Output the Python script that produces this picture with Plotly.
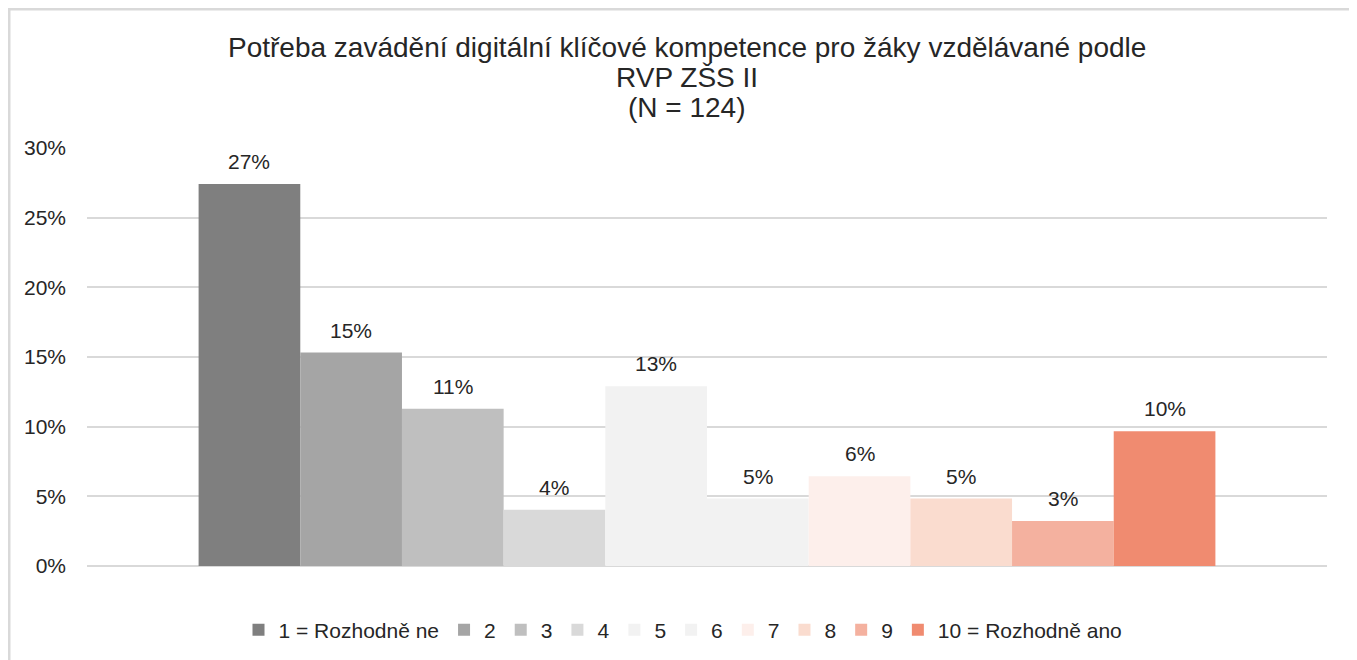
import plotly.graph_objects as go

series_names = ["1 = Rozhodně ne", "2", "3", "4", "5", "6", "7", "8", "9", "10 = Rozhodně ano"]
values_pct = [27.42, 15.32, 11.29, 4.03, 12.90, 4.84, 6.45, 4.84, 3.23, 9.68]
colors = ["#7f7f7f", "#a5a5a5", "#bfbfbf", "#d9d9d9", "#f2f2f2", "#f2f2f2",
          "#fdefeb", "#fadccf", "#f4b19f", "#f08b70"]
title_lines = ["Potřeba zavádění digitální klíčové kompetence pro žáky vzdělávané podle",
               "RVP ZŠS II", "(N = 124)"]
y_tickvals = [0, 5, 10, 15, 20, 25, 30]
y_ticktext = ["0%", "5%", "10%", "15%", "20%", "25%", "30%"]

# page has an 8px body margin -> work in screen pixels, convert to figure pixels
OX, OY = 8, 8
W, H = 1357 - OX, 660 - OY
PL, PR, PT, PB = 87, 1327, 148, 566  # plot area in screen px
L, R, T, B = PL - OX, W - (PR - OX), PT - OY, H - (PB - OY)
pw, ph = PR - PL, PB - PT


def px_x(x):
    return (x - PL) / pw


def px_y(y):
    return (PB - y) / ph


FONT = "Liberation Sans, Arial, sans-serif"
TXT = "#262626"
BARGAP = 0.18
n = len(series_names)
bw = (1 - BARGAP) / n

fig = go.Figure()
for i, (name, v, c) in enumerate(zip(series_names, values_pct, colors)):
    fig.add_trace(go.Bar(
        name=name, x=[0], y=[v], marker=dict(color=c, line=dict(width=0)),
        hoverinfo="name+y",
    ))
    fig.add_annotation(
        x=-(1 - BARGAP) / 2 + bw * (i + 0.5), y=v, xref="x", yref="y",
        text=f"{v:.0f}%", showarrow=False, xanchor="center", yanchor="bottom",
        yshift=9, font=dict(family=FONT, size=21, color=TXT),
    )

for line, yc in zip(title_lines, [47, 77, 107]):
    fig.add_annotation(
        text=line, xref="paper", yref="paper", x=px_x(687), y=px_y(yc),
        xanchor="center", yanchor="middle", showarrow=False,
        font=dict(family=FONT, size=28, color=TXT),
    )

fig.add_shape(type="rect", xref="paper", yref="paper",
              x0=px_x(OX + 1), x1=px_x(1351), y0=px_y(700), y1=px_y(OY + 1),
              line=dict(color="#d9d9d9", width=3), fillcolor="rgba(0,0,0,0)", layer="below")

fig.update_layout(
    width=W, height=H, margin=dict(l=L, r=R, t=T, b=B, autoexpand=False),
    paper_bgcolor="white", plot_bgcolor="white",
    barmode="group", bargap=BARGAP, bargroupgap=0,
    showlegend=True,
    legend=dict(orientation="h", x=px_x(683), xanchor="center", y=px_y(630), yanchor="middle",
                font=dict(family=FONT, size=21, color=TXT),
                traceorder="normal", itemwidth=30, tracegroupgap=0),
    font=dict(family=FONT, color=TXT),
)
fig.update_xaxes(range=[-0.5, 0.5], showticklabels=False, showgrid=False, showline=False,
                 zeroline=False)
fig.update_yaxes(range=[0, 30], tickvals=y_tickvals, ticktext=y_ticktext, showgrid=True,
                 gridcolor="#d9d9d9", gridwidth=2, zeroline=True, zerolinecolor="#d9d9d9",
                 zerolinewidth=2, showline=False, ticklabelstandoff=20,
                 tickfont=dict(family=FONT, size=21, color=TXT))

fig.write_html("out.html")
